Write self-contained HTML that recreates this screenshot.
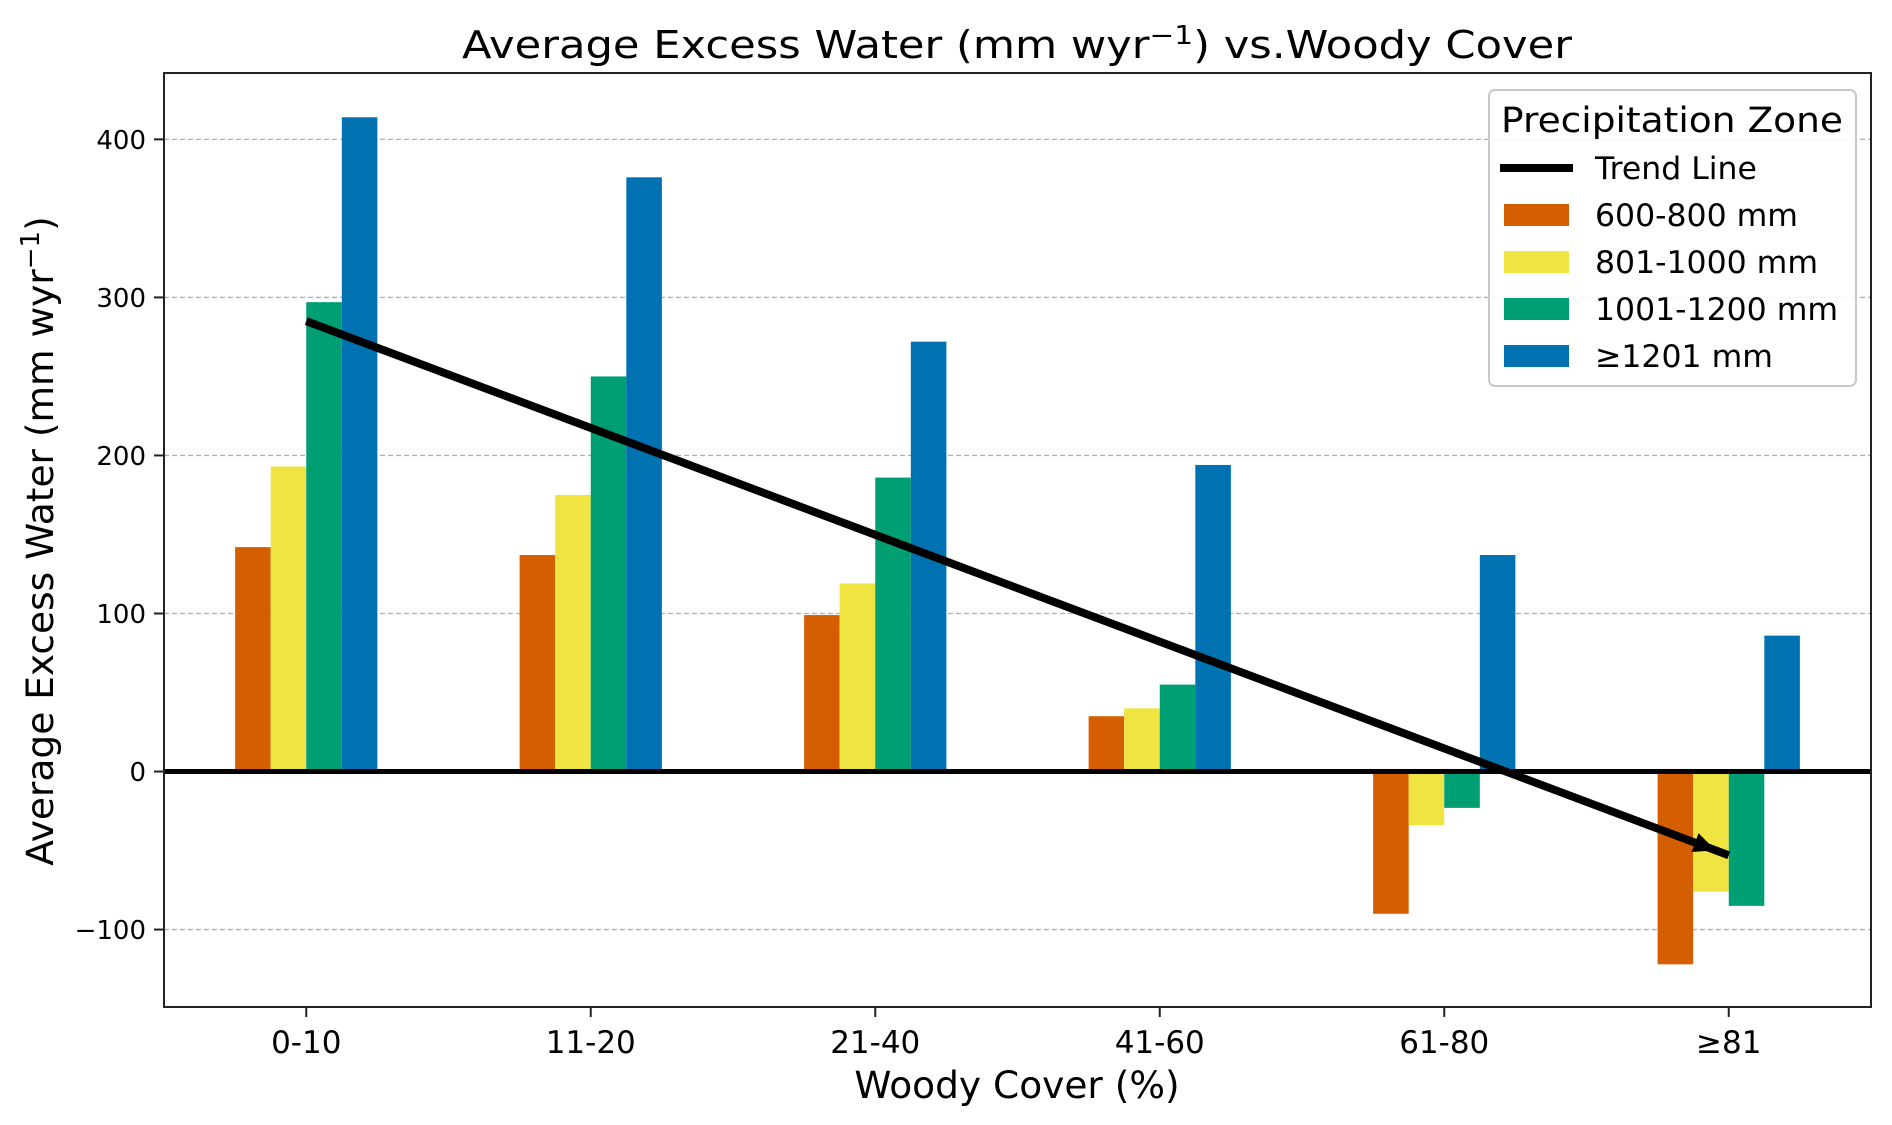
<!DOCTYPE html>
<html><head><meta charset="utf-8"><style>
html,body{margin:0;padding:0;background:#fff;}
svg{display:block;font-family:"DejaVu Sans","Liberation Sans",sans-serif;}
</style></head><body>
<svg id="chart" width="1892" height="1125" viewBox="0 0 1892 1125" xmlns="http://www.w3.org/2000/svg">
<rect x="0" y="0" width="1892" height="1125" fill="#fff"/>
<g id="grid"></g>
<g id="bars"></g>
<g id="overlay"></g>
<g id="axes"></g>
<text x="1017" y="58" font-size="38" text-anchor="middle" textLength="1110" lengthAdjust="spacingAndGlyphs">Average Excess Water (mm wyr<tspan font-size="26" dy="-14">−1</tspan><tspan dy="14">) vs.Woody Cover</tspan></text>
<text x="1017" y="1098" font-size="37.5" text-anchor="middle">Woody Cover (%)</text>
<text transform="translate(53,541) rotate(-90)" font-size="37.5" text-anchor="middle">Average Excess Water (mm wyr<tspan font-size="26" dy="-14">−1</tspan><tspan dy="14">)</tspan></text>
<g id="legend"></g>
</svg>
<script>
const categories = ["0-10","11-20","21-40","41-60","61-80","≥81"];
const seriesNames = ["600-800 mm","801-1000 mm","1001-1200 mm","≥1201 mm"];
const s600 = [142,137,99,35,-90,-122];
const s801 = [193,175,119,40,-34,-76];
const s1001 = [297,250,186,55,-23,-85];
const s1201 = [414,376,272,194,137,86];
const trendStart = 285;
const trendEnd = -53;
const yTicks = [-100,0,100,200,300,400];
const yTickLabels = ["−100","0","100","200","300","400"];

const colors = ["#D55E00","#F0E442","#009E73","#0072B2"];
const L=164,R=1871,T=73,B=1007;
const xMin=-0.5,xMax=5.5,yMin=-149,yMax=442;
const xs=v=>L+(v-xMin)/(xMax-xMin)*(R-L);
const ys=v=>B-(v-yMin)/(yMax-yMin)*(B-T);
const NS="http://www.w3.org/2000/svg";
function mk(tag,attrs,parent){const e=document.createElementNS(NS,tag);for(const k in attrs)e.setAttribute(k,attrs[k]);parent.appendChild(e);return e;}
const grid=document.getElementById('grid'),bars=document.getElementById('bars'),ov=document.getElementById('overlay'),axes=document.getElementById('axes'),leg=document.getElementById('legend');

yTicks.forEach((t,i)=>{
  const y=ys(t);
  if(t!==0){const g=mk('line',{x1:L,x2:R,y1:y,y2:y,stroke:'#b0b0b0','stroke-width':1.3,'stroke-dasharray':'5,3'},grid);
  
  }
  const tk=mk('line',{x1:L-10,x2:L,y1:y,y2:y,stroke:'#222','stroke-width':2},axes);
  
  
  const lb=mk('text',{x:L-18,y:y+9.5,'font-size':26,'text-anchor':'end'},axes);
  lb.textContent=yTickLabels[i];
  
  
});

const series=[s600,s801,s1001,s1201];
const w=0.125;
series.forEach((arr,si)=>{
  arr.forEach((v,ci)=>{
    const x0=xs(ci-0.25+si*w),x1=xs(ci-0.25+(si+1)*w);
    const y0=ys(Math.max(v,0)),y1=ys(Math.min(v,0));
    const r=mk('rect',{x:x0,y:y0,width:x1-x0,height:y1-y0,fill:colors[si]},bars);
    
    
  });
});

const zl=mk('line',{x1:L,x2:R,y1:ys(0),y2:ys(0),stroke:'#000','stroke-width':5},ov);



const tx0=xs(0),ty0=ys(trendStart),tx1=xs(5),ty1=ys(trendEnd);
const tl=mk('line',{x1:tx0,y1:ty0,x2:tx1,y2:ty1,stroke:'#000','stroke-width':8},ov);


const ang=Math.atan2(ty1-ty0,tx1-tx0);
const hx=tx1-Math.cos(ang)*14,hy=ty1-Math.sin(ang)*14;
const bx=hx-Math.cos(ang)*22,by=hy-Math.sin(ang)*22;
const px=-Math.sin(ang)*10,py=Math.cos(ang)*10;
const ah=mk('polygon',{points:`${hx},${hy} ${bx+px},${by+py} ${bx-px},${by-py}`,fill:'#000'},ov);



const fr=mk('rect',{x:L,y:T,width:R-L,height:B-T,fill:'none',stroke:'#222','stroke-width':2},axes);



categories.forEach((c,i)=>{
  const x=xs(i);
  const tk=mk('line',{x1:x,x2:x,y1:B,y2:B+10,stroke:'#222','stroke-width':2},axes);
  
  
  const lb=mk('text',{x:x,y:1053,'font-size':31,'text-anchor':'middle'},axes);
  lb.textContent=c;
  
  
});

const lb=mk('rect',{x:1489,y:90,width:367,height:296,rx:6,fill:'#fff','fill-opacity':0.85,stroke:'#c8c8c8','stroke-width':2},leg);


const lt=mk('text',{x:1672,y:132,'font-size':35,'text-anchor':'middle',textLength:342,lengthAdjust:'spacingAndGlyphs'},leg);
lt.textContent='Precipitation Zone';


const tlh=mk('line',{x1:1500,x2:1573,y1:168,y2:168,stroke:'#000','stroke-width':8},leg);


const tlt=mk('text',{x:1595,y:179,'font-size':31.5},leg);
tlt.textContent='Trend Line';


seriesNames.forEach((n,i)=>{
  const by=226+i*47;
  const r=mk('rect',{x:1504,y:by-22,width:65,height:22,fill:colors[i]},leg);
  
  
  const t=mk('text',{x:1595,y:by,'font-size':31.5},leg);
  t.textContent=n;
  
  
});
</script>
</body></html>
